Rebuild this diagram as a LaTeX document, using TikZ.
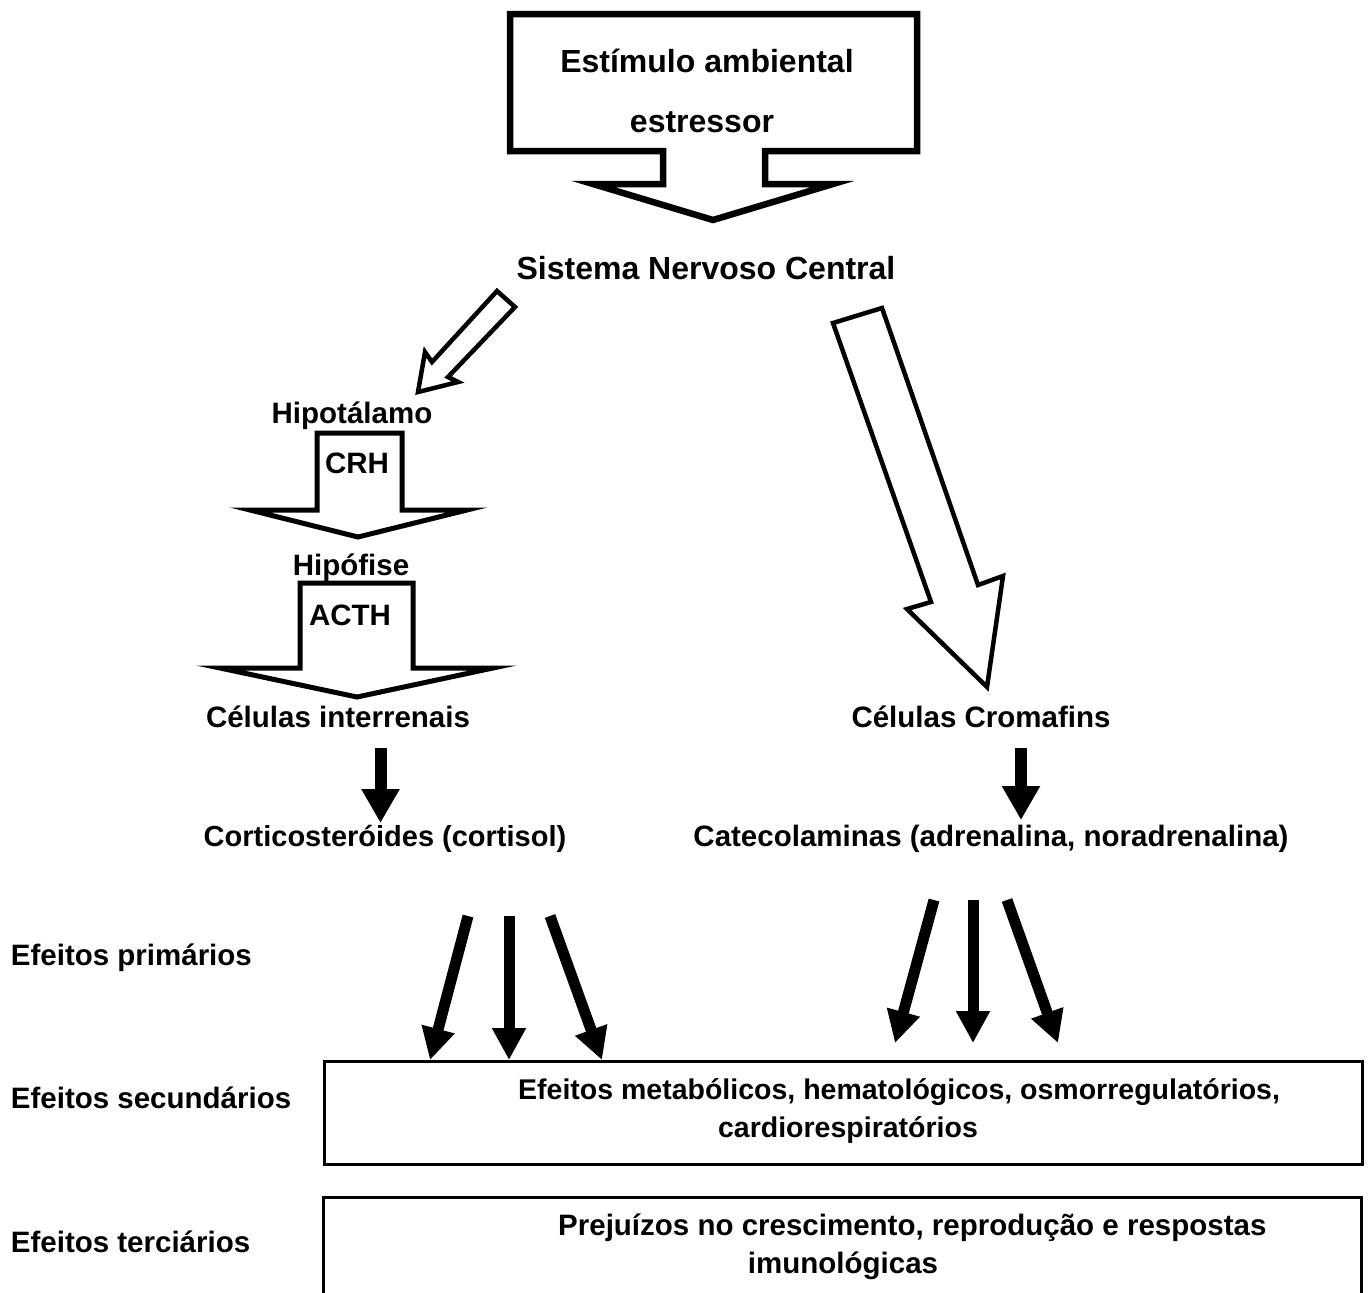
\documentclass[tikz,border=0pt]{standalone}
\usepackage{fontspec}
\setmainfont{Liberation Sans}
\usetikzlibrary{arrows.meta}
\newcommand\txtA{\fontsize{29.5}{35}\selectfont\bfseries}
\newcommand\txtB{\fontsize{32}{38}\selectfont\bfseries}
\newcommand\txtC{\fontsize{28.5}{34}\selectfont\bfseries}
\begin{document}
\begin{tikzpicture}[x=1pt,y=-1pt,
  lbl/.style={inner sep=0pt,anchor=base,font=\txtA},
  lblw/.style={inner sep=0pt,anchor=base west,font=\txtA},
  blockarrow/.style={draw=black,fill=white,line join=miter,miter limit=20},
  blackarrow/.style={line width=12pt,-{Triangle[width=36pt,length=34pt]}},
  fanarrow/.style={line width=11pt,-{Triangle[width=32pt,length=32pt]}},
  effbox/.style={draw=black,line width=3pt,inner sep=0pt,anchor=north west}]
\useasboundingbox (0,0) rectangle (1368,1293);

% top callout
\draw[blockarrow,line width=6.5pt] (510,14) -- (917,14) -- (917,151) -- (765,151) -- (765,184) -- (833,184) -- (713,220) -- (593,184) -- (663,184) -- (663,151) -- (510,151) -- cycle;
\node[lbl,font=\txtB] (stim1) at (707,72) {Estímulo ambiental};
\node[lbl,font=\txtB] (stim2) at (702,132) {estressor};

\node[lbl,font=\fontsize{32}{38}\selectfont\bfseries] (snc) at (706,279) {Sistema Nervoso Central};

% diagonal open arrows
\draw[blockarrow,line width=4.5pt] (497,291) -- (515,307) -- (448,377) -- (458,382) -- (418,392) -- (425,352) -- (432,362) -- cycle;
\draw[blockarrow,line width=4.5pt] (833,323) -- (882,308) -- (978,585) -- (1003,576) -- (987,687) -- (907,609) -- (931,602) -- cycle;

\node[lbl] (hipo) at (352,423) {Hipotálamo};
\draw[blockarrow,line width=5pt] (317,433) -- (402,433) -- (402,510) -- (467,510) -- (358,537) -- (250,510) -- (317,510) -- cycle;
\node[lbl] (crh) at (357,473) {CRH};
\node[lbl] (hipof) at (351,575) {Hipófise};
\draw[blockarrow,line width=5pt] (300,583) -- (413,583) -- (413,668) -- (493,668) -- (357,697) -- (220,668) -- (300,668) -- cycle;
\node[lbl] (acth) at (350,625) {ACTH};

\node[lbl] (inter) at (338,727) {Células interrenais};
\node[lbl] (crom) at (981,727) {Células Cromafins};

\coordinate (i1) at (380.5,748);
\coordinate (i2) at (380.5,823);
\coordinate (c1) at (1021,748);
\coordinate (c2) at (1021,820);
\draw[blackarrow] (i1) -- (i2);
\draw[blackarrow] (c1) -- (c2);

\node[lbl,font=\fontsize{29}{35}\selectfont\bfseries] (cort) at (385,846) {Corticosteróides (cortisol)};
\node[lbl] (cate) at (991,846) {Catecolaminas (adrenalina, noradrenalina)};

\node[lblw] (prim) at (10.7,965) {Efeitos primários};
\node[lblw] (sec) at (10.7,1108) {Efeitos secundários};
\node[lblw] (ter) at (10.7,1252) {Efeitos terciários};

% boxes
\node[effbox,minimum width=1038pt,minimum height=103pt] (box1) at (323,1060) {};
\draw[line width=3pt] (323,1300) -- (323,1197) -- (1361,1197) -- (1361,1300);
\coordinate (box2nw) at (323,1197);

\node[lblw,font=\txtC] (b1a) at (518,1099) {Efeitos metabólicos, hematológicos, osmorregulatórios,};
\node[lbl,font=\txtC] (b1b) at (848,1137) {cardiorespiratórios};
\node[lblw] (b2a) at (558,1235) {Prejuízos no crescimento, reprodução e respostas};
\node[lbl] (b2b) at (843,1273) {imunológicas};

% fan arrows
\coordinate (l1s) at (468,916); \coordinate (l1e) at (430,1060);
\coordinate (l2s) at (509,916); \coordinate (l2e) at (509,1060);
\coordinate (l3s) at (550,916); \coordinate (l3e) at (602,1060);
\coordinate (r1s) at (934,900); \coordinate (r1e) at (895,1043);
\coordinate (r2s) at (973,900); \coordinate (r2e) at (973,1043);
\coordinate (r3s) at (1007,900); \coordinate (r3e) at (1058,1043);
\draw[fanarrow] (l1s) -- (l1e);
\draw[fanarrow] (l2s) -- (l2e);
\draw[fanarrow] (l3s) -- (l3e);
\draw[fanarrow] (r1s) -- (r1e);
\draw[fanarrow] (r2s) -- (r2e);
\draw[fanarrow] (r3s) -- (r3e);
\end{tikzpicture}
\end{document}
